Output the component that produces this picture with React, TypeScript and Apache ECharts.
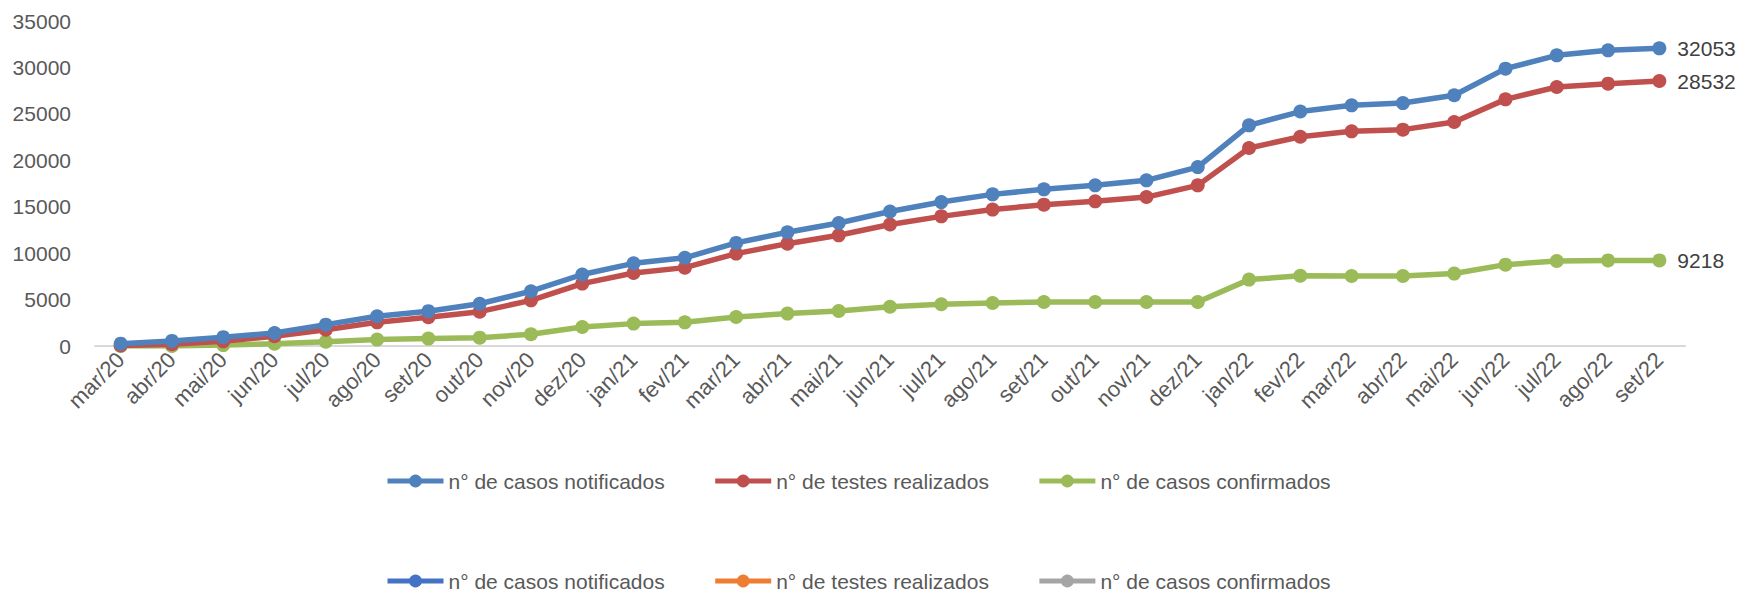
import React, { useEffect, useRef } from "react";
import * as echarts from "echarts";

const categories = [
  "mar/20", "abr/20", "mai/20", "jun/20", "jul/20", "ago/20", "set/20", "out/20", "nov/20", "dez/20",
  "jan/21", "fev/21", "mar/21", "abr/21", "mai/21", "jun/21", "jul/21", "ago/21", "set/21", "out/21", "nov/21", "dez/21",
  "jan/22", "fev/22", "mar/22", "abr/22", "mai/22", "jun/22", "jul/22", "ago/22", "set/22",
];

const notificados = [
  250, 550, 950, 1400, 2300, 3200, 3750, 4550, 5900, 7700,
  8900, 9500, 11100, 12250, 13250, 14480, 15500, 16330, 16870, 17300, 17840, 19270,
  23760, 25250, 25920, 26160, 27000, 29870, 31300, 31840, 32053,
];

const testes = [
  50, 200, 500, 1050, 1750, 2550, 3100, 3700, 4920, 6720,
  7860, 8440, 9950, 11020, 11920, 13090, 13960, 14690, 15220, 15580, 16040, 17300,
  21320, 22540, 23120, 23300, 24120, 26560, 27890, 28250, 28532,
];

const confirmados = [
  0, 0, 100, 250, 470, 690, 800, 900, 1260, 2040,
  2410, 2550, 3120, 3490, 3770, 4230, 4490, 4630, 4740, 4740, 4740, 4740,
  7150, 7560, 7540, 7540, 7800, 8760, 9150, 9220, 9218,
];

const seriesNames = ["n° de casos notificados", "n° de testes realizados", "n° de casos confirmados"];
const seriesColors = ["#4F81BD", "#C0504D", "#9BBB59"];
const ghostLegendColors = ["#4472C4", "#ED7D31", "#A5A5A5"];

const FONT = "'Liberation Sans', Arial, sans-serif";

export default function App() {
  const ref = useRef<HTMLDivElement>(null);

  useEffect(() => {
    if (!ref.current) return;
    const chart = echarts.init(ref.current, null, { renderer: "svg" });
    const values = [notificados, testes, confirmados];

    const series = values.map((arr, si) => ({
      name: seriesNames[si],
      type: "line",
      symbol: "circle",
      symbolSize: 14,
      color: seriesColors[si],
      lineStyle: { width: 5.5, color: seriesColors[si] },
      itemStyle: { color: seriesColors[si] },
      label: {
        show: false,
        position: "right",
        distance: 11,
        color: "#404040",
        fontSize: 21,
        fontFamily: FONT,
      },
      data: arr.map((v, i) => (i === arr.length - 1 ? { value: v, label: { show: true } } : v)),
      z: 3 - si,
    }));

    const legendCommon = {
      orient: "horizontal",
      left: 380,
      itemWidth: 56,
      itemHeight: 16,
      itemGap: 48,
      selectedMode: false,
      textStyle: { color: "#595959", fontSize: 21, lineHeight: 22, fontFamily: FONT },
    };

    chart.setOption({
      animation: false,
      backgroundColor: "#ffffff",
      grid: { left: 95, right: 57, top: 21, bottom: 249, containLabel: false },
      legend: [
        {
          ...legendCommon,
          top: 465,
          data: seriesNames.map((n, i) => ({
            name: n,
            itemStyle: { color: seriesColors[i] },
            lineStyle: { color: seriesColors[i], width: 5 },
          })),
        },
        {
          ...legendCommon,
          top: 565,
          data: seriesNames.map((n, i) => ({
            name: n,
            itemStyle: { color: ghostLegendColors[i] },
            lineStyle: { color: ghostLegendColors[i], width: 5 },
          })),
        },
      ],
      xAxis: {
        type: "category",
        data: categories,
        boundaryGap: true,
        axisLine: { show: true, lineStyle: { color: "#D9D9D9", width: 2 } },
        axisTick: { show: false },
        axisLabel: {
          rotate: 45,
          interval: 0,
          margin: 10,
          color: "#595959",
          fontSize: 22,
          fontFamily: FONT,
        },
      },
      yAxis: {
        type: "value",
        min: 0,
        max: 35000,
        interval: 5000,
        axisLine: { show: false },
        axisTick: { show: false },
        splitLine: { show: false },
        axisLabel: {
          margin: 24,
          color: "#595959",
          fontSize: 21,
          fontFamily: FONT,
          formatter: (v: number) => String(v),
        },
      },
      series,
    });

    return () => {
      chart.dispose();
    };
  }, []);

  return (
    <div
      ref={ref}
      style={{ position: "fixed", left: 0, top: 0, width: 1742, height: 595, background: "#fff" }}
    />
  );
}
